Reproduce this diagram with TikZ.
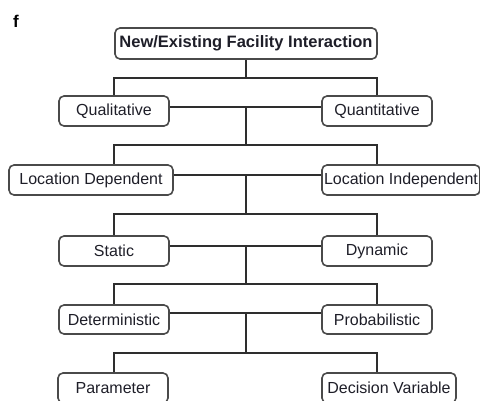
\documentclass[tikz,border=0pt]{standalone}
\usepackage{fontspec}
\setmainfont{Liberation Sans}
\usetikzlibrary{calc}
\definecolor{linegray}{HTML}{2E2E2E}
\definecolor{boxgray}{HTML}{4A4A4A}
\definecolor{textgray}{HTML}{1E1E28}
\begin{document}
\begin{tikzpicture}[x=1pt,y=-1pt,
  box/.style={draw=boxgray, line width=1.6pt, rounded corners=5pt, inner sep=0pt,
    minimum height=30pt, text=textgray, font=\fontsize{16}{19}\selectfont},
  link/.style={draw=linegray, line width=1.8pt}]
\useasboundingbox (0,0) rectangle (480,401);

% panel letter
\node[font=\bfseries\fontsize{17}{20}\selectfont, text=black] (lbl) at (16,21) {f};

% boxes, level by level
\node[box, minimum width=262pt, minimum height=31pt, font=\bfseries\fontsize{16.5}{19}\selectfont] (top) at (246,43.5) {New/Existing Facility Interaction};

\node[box, minimum width=110pt] (qual)  at (114,111) {Qualitative};
\node[box, minimum width=110pt] (quant) at (377,111) {Quantitative};

\node[box, minimum width=164pt] (locdep) at (91,180) {Location Dependent};
\node[box, minimum width=158pt] (locind) at (401,180) {Location Independent};

\node[box, minimum width=110pt] (static)  at (114,251) {Static};
\node[box, minimum width=110pt] (dynamic) at (377,251) {Dynamic};

\node[box, minimum width=110pt, minimum height=29pt] (det)  at (114,319.5) {Deterministic};
\node[box, minimum width=110pt, minimum height=29pt] (prob) at (377,319.5) {Probabilistic};

\node[box, minimum width=110pt] (param) at (113,388) {Parameter};
\node[box, minimum width=134pt] (dec)   at (389,388) {Decision Variable};

% junction bars
\coordinate (j1) at (246,78);
\coordinate (j2) at (246,145);
\coordinate (j3) at (246,214);
\coordinate (j4) at (246,284);
\coordinate (j5) at (246,353);

% cross links between the two boxes of each level
\coordinate (h1) at ([yshift=4pt]qual.east);
\coordinate (h2) at ([yshift=5pt]locdep.east);
\coordinate (h3) at ([yshift=5pt]static.east);
\coordinate (h4) at ([yshift=6.5pt]det.east);

% top
\draw[link] (top.south) -- (j1);
\draw[link] (qual.north) |- (j1) -| (quant.north);

% qualitative / quantitative
\draw[link] (h1) -- (h1 -| quant.west);
\draw[link] (h1 -| j1) -- (j2);
\draw[link] (locdep.north -| qual.north) |- (j2) -| (locind.north -| quant.north);

% location dependent / independent
\draw[link] (h2) -- (h2 -| locind.west);
\draw[link] (h2 -| j2) -- (j3);
\draw[link] (static.north) |- (j3) -| (dynamic.north);

% static / dynamic
\draw[link] (h3) -- (h3 -| dynamic.west);
\draw[link] (h3 -| j3) -- (j4);
\draw[link] (det.north) |- (j4) -| (prob.north);

% deterministic / probabilistic
\draw[link] (h4) -- (h4 -| prob.west);
\draw[link] (h4 -| j4) -- (j5);
\draw[link] (param.north -| qual.north) |- (j5) -| (dec.north -| quant.north);
\end{tikzpicture}
\end{document}
